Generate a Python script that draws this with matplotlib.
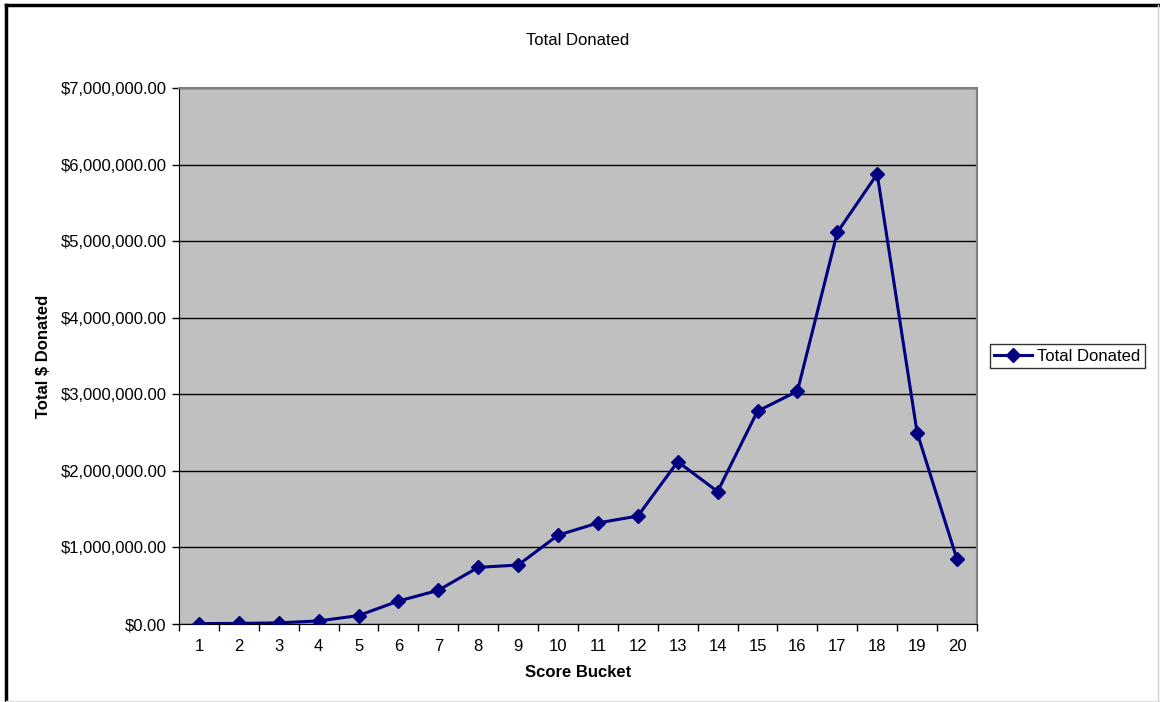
import matplotlib.pyplot as plt
from matplotlib.lines import Line2D
from matplotlib.ticker import FuncFormatter, MultipleLocator, FixedLocator

plt.rcParams['font.family'] = ['Liberation Sans', 'DejaVu Sans']

# Total donated per score bucket
BUCKETS = list(range(1, 21))
TOTAL_DONATED = [5000, 8000, 15000, 40000, 110000, 300000, 440000, 740000, 770000, 1160000,
                 1320000, 1410000, 2120000, 1730000, 2780000, 3040000, 5115000, 5877000,
                 2500000, 845000]
SERIES_NAME = 'Total Donated'


def dollars(v, pos):
    return f'${v:,.2f}'


def plot_total_donated():
    fig = plt.figure(figsize=(11.6, 7.02), dpi=100)
    ax = fig.add_axes([0.1543, 0.1111, 0.6879, 0.7635])
    ax.set_facecolor('#C0C0C0')

    ax.plot(BUCKETS, TOTAL_DONATED, color='#000080', linewidth=2.2, marker='D',
            markersize=7, label=SERIES_NAME, zorder=3)

    ax.set_xlim(0.5, 20.5)
    ax.set_ylim(0, 7000000)
    ax.yaxis.set_major_locator(MultipleLocator(1000000))
    ax.yaxis.set_major_formatter(FuncFormatter(dollars))
    ax.grid(axis='y', color='black', linewidth=1, zorder=1)

    # category labels sit between the tick marks
    ax.xaxis.set_major_locator(FixedLocator(BUCKETS))
    ax.xaxis.set_minor_locator(FixedLocator([b + 0.5 for b in [0] + BUCKETS]))
    ax.tick_params(axis='x', which='major', length=0, pad=11, labelsize=12)
    ax.tick_params(axis='x', which='minor', length=5, width=1, color='black')
    ax.tick_params(axis='y', length=5, width=1, color='black', labelsize=12, pad=4)

    for side in ['left', 'bottom']:
        ax.spines[side].set_color('black')
    for side in ['top', 'right']:
        ax.spines[side].set_color('#808080')
        ax.spines[side].set_linewidth(1.5)

    ax.set_title('Total Donated', fontsize=12, pad=31)
    ax.set_xlabel('Score Bucket', fontsize=12, fontweight='bold', labelpad=8)
    ax.set_ylabel('Total $ Donated', fontsize=12, fontweight='bold', labelpad=7)

    leg = ax.legend(loc='center left', bbox_to_anchor=(1.016, 0.5), fontsize=12,
                    frameon=True, fancybox=False, edgecolor='black', borderpad=0.25,
                    handlelength=2.3, handletextpad=0.3, borderaxespad=0)
    leg.get_frame().set_linewidth(1)

    # chart frame
    fig.add_artist(Line2D([0.005, 0.005], [0, 0.993], color='black', linewidth=2.5,
                          transform=fig.transFigure))
    fig.add_artist(Line2D([0.005, 1], [0.993, 0.993], color='black', linewidth=2.5,
                          transform=fig.transFigure))
    fig.add_artist(Line2D([0.998, 0.998], [0, 0.993], color='#D0D0D0', linewidth=1,
                          transform=fig.transFigure))
    fig.add_artist(Line2D([0.005, 1], [0.002, 0.002], color='#E0E0E0', linewidth=1,
                          transform=fig.transFigure))

    fig.savefig('out.png', dpi=100)


def main():
    plot_total_donated()


if __name__ == "__main__":
    main()
